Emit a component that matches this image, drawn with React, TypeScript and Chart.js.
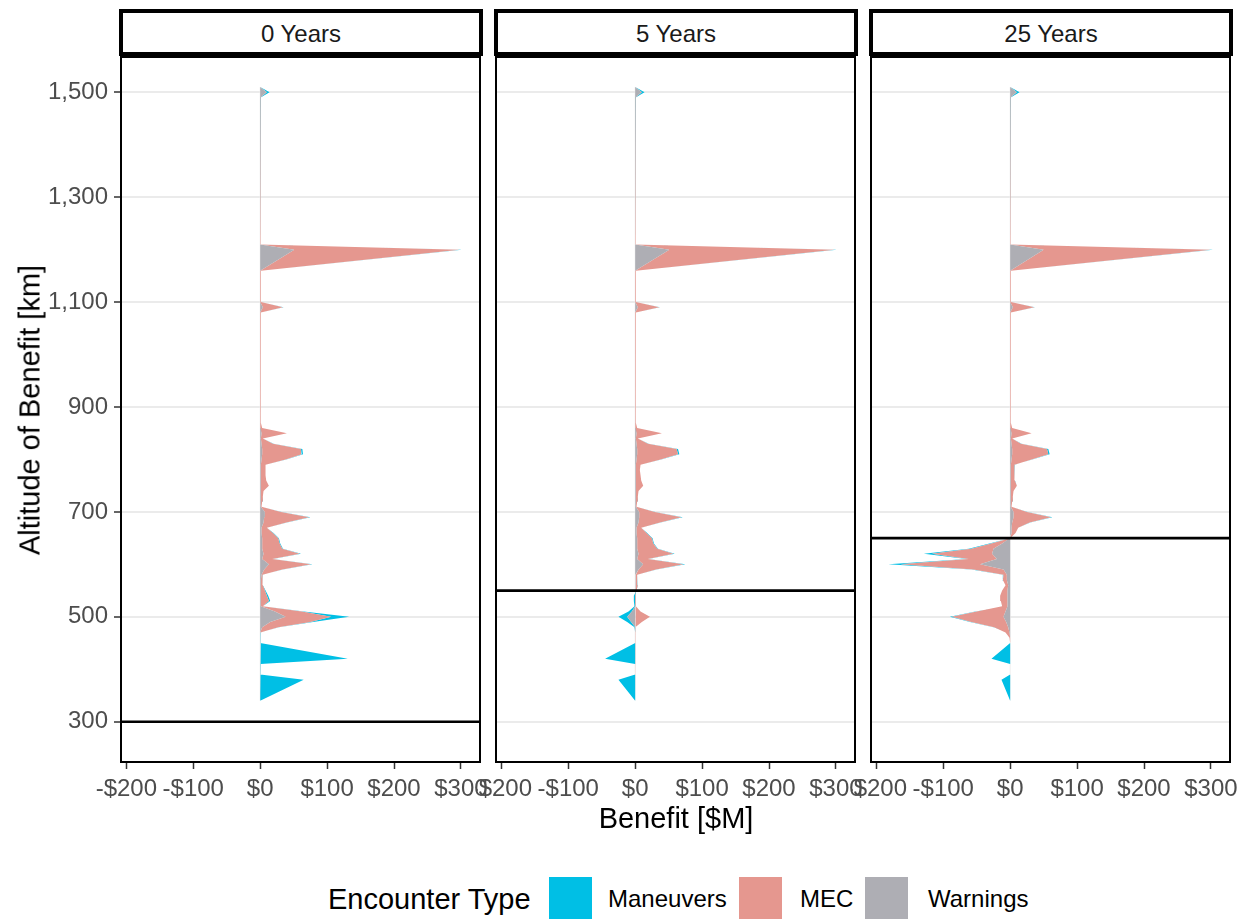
import React, { useEffect, useRef } from "react";
import { Chart, registerables } from "chart.js";

Chart.register(...registerables);

// ---------------- data ----------------
const altitudes = [
  340, 380, 390, 410, 420, 450, 460, 470, 480, 490, 500, 510, 520, 530, 540, 550, 560, 570, 580, 590,
  600, 610, 620, 630, 640, 650, 660, 670, 680, 690, 700, 710, 720, 730, 740, 750, 760, 770, 780, 790,
  800, 810, 820, 830, 840, 850, 860, 870, 900, 950, 1000, 1050, 1080, 1090, 1100, 1160, 1200, 1210,
  1300, 1400, 1490, 1500, 1510,
];

// 0 Years
const warnings0 = [
  0, 0, 0, 0, 0, 0, 0, 0, 3, 15, 38, 22, 1, 1, 1, 1, 1, 1, 2, 6,
  13, 3, 5, 3, 3, 3, 2, 2, 5, 6, 7, 1, 1, 1, 1, 1, 1, 1, 1, 1,
  2, 3, 3, 2, 1, 2, 1, 0, 0, 0, 0, 0, 0, 4, 0, 0, 51, 0,
  0, 0, 0, 9, 0,
];
const mec0 = [
  0, 0, 0, 0, 0, 0, 0, 1, 24, 60, 68, 40, 3, 12, 9, 6, 3, 2, 2, 27,
  63, 15, 54, 30, 26, 24, 17, 8, 34, 67, 24, 1, 2, 3, 4, 12, 8, 7, 7, 7,
  36, 59, 58, 17, 3, 38, 2, 1, 1, 1, 1, 1, 1, 30, 1, 1, 247, 0,
  1, 1, 0, 1, 0,
];
const maneuvers0 = [
  0, 65, 0, 0, 131, 0, 0, 0, 1, 4, 27, 3, 0, 2, 2, 1, 0, 0, 0, 1,
  2, 1, 2, 1, 1, 1, 1, 0, 1, 2, 1, 0, 0, 0, 0, 0, 0, 0, 0, 0,
  1, 2, 2, 1, 0, 0, 0, 0, 0, 0, 0, 0, 0, 1, 0, 0, 3, 0,
  0, 0, 0, 4, 0,
];

// 5 Years
const warnings5 = [
  0, 0, 0, 0, 0, 0, 0, 0, 0, -6, -12, -5, 0, 0, 0, 0, 1, 1, 1, 5,
  12, 3, 5, 3, 3, 3, 2, 2, 5, 6, 6, 1, 1, 1, 1, 1, 1, 1, 1, 1,
  2, 3, 3, 2, 1, 2, 1, 0, 0, 0, 0, 0, 0, 4, 0, 0, 51, 0,
  0, 0, 0, 9, 0,
];
const mec5 = [
  0, 0, 0, 0, 0, 0, 0, 0, 1, 10, 22, 8, 1, 0, 0, 2, 3, 2, 2, 26,
  60, 16, 52, 30, 24, 22, 15, 7, 32, 63, 23, 1, 2, 3, 4, 11, 8, 7, 6, 7,
  36, 61, 59, 17, 3, 38, 2, 1, 1, 1, 1, 1, 1, 32, 1, 1, 247, 0,
  1, 1, 0, 1, 0,
];
const maneuvers5 = [
  0, -25, 0, 0, -45, 0, 0, 0, -1, -6, -13, -5, -1, -2, -2, 0, 0, 0, 0, 1,
  3, 1, 2, 1, 1, 1, 1, 0, 1, 2, 1, 0, 0, 0, 0, 0, 0, 0, 0, 0,
  1, 2, 2, 1, 0, 0, 0, 0, 0, 0, 0, 0, 0, 1, 0, 0, 3, 0,
  0, 0, 0, 4, 0,
];

// 25 Years
const warnings25 = [
  0, 0, 0, 0, 0, 0, 0, -1, -3, -6, -10, -7, -4, -4, -4, -4, -3, -5, -5, -10,
  -45, -20, -27, -25, -12, -1, 2, 2, 3, 5, 5, 1, 1, 1, 1, 1, 1, 1, 1, 1,
  2, 3, 3, 2, 1, 2, 1, 0, 0, 0, 0, 0, 0, 4, 0, 0, 50, 0,
  0, 0, 0, 9, 0,
];
const mec25 = [
  0, 0, 0, 0, 0, 0, -1, -6, -21, -52, -77, -43, -8, -10, -11, -8, -4, -6, -5, -45,
  -119, -42, -90, -33, -16, 0, 6, 10, 26, 56, 20, 1, 2, 3, 4, 9, 6, 5, 5, 6,
  30, 54, 52, 14, 2, 30, 2, 1, 1, 1, 1, 1, 1, 32, 1, 1, 250, 0,
  1, 1, 0, 1, 0,
];
const maneuvers25 = [
  0, -13, 0, 0, -28, 0, 0, 0, -1, -2, -3, -2, 0, 0, 0, 0, 0, -1, -1, -3,
  -18, -3, -12, -4, -3, 0, 0, 0, 1, 2, 1, 0, 0, 0, 0, 0, 0, 0, 0, 0,
  1, 2, 2, 1, 0, 0, 0, 0, 0, 0, 0, 0, 0, 1, 0, 0, 3, 0,
  0, 0, 0, 4, 0,
];

const panelTitles = ["0 Years", "5 Years", "25 Years"];
const limitAltitudes = [300, 550, 650];
const yTicks = [300, 500, 700, 900, 1100, 1300, 1500];
const xTicks = [-200, -100, 0, 100, 200, 300];
const seriesNames = ["Maneuvers", "MEC", "Warnings"];
const seriesColors = ["#00BFE5", "#E5978F", "#AEAEB4"];

const panelSeries = [
  { warnings: warnings0, mec: mec0, maneuvers: maneuvers0 },
  { warnings: warnings5, mec: mec5, maneuvers: maneuvers5 },
  { warnings: warnings25, mec: mec25, maneuvers: maneuvers25 },
];

// ---------------- layout ----------------
const FONT = "'Liberation Sans', Arial, Helvetica, sans-serif";
const Y_MIN = 223.2;
const Y_MAX = 1567.3;
const X_MIN = -208;
const X_MAX = 330;
const AREA_TOP = 57;
const AREA_H = 705;
const AREA_W = 360;
const AREA_LEFTS = [121, 496, 871];
const X_AXIS_H = 50;

function stackBands(series: number[][]) {
  const n = altitudes.length;
  const pos = new Array(n).fill(0);
  const neg = new Array(n).fill(0);
  return series.map((vals) => {
    const lower: number[] = [];
    const upper: number[] = [];
    for (let i = 0; i < n; i++) {
      const v = vals[i];
      if (v >= 0) {
        lower.push(pos[i]);
        pos[i] += v;
        upper.push(pos[i]);
      } else {
        lower.push(neg[i]);
        neg[i] += v;
        upper.push(neg[i]);
      }
    }
    return { lower, upper };
  });
}

const money = (v: number) => (v < 0 ? `-$${-v}` : `$${v}`);

const zeroPadding = (sc: any) => {
  sc.paddingLeft = 0;
  sc.paddingRight = 0;
  sc.paddingTop = 0;
  sc.paddingBottom = 0;
};

function Panel({ idx }: { idx: number }) {
  const ref = useRef<HTMLCanvasElement | null>(null);
  const padLeft = idx === 0 ? 0 : 20;
  const padRight = idx === 2 ? 14 : 20;
  const yWidth = idx === 0 ? AREA_LEFTS[0] : 0;
  const canvasLeft = AREA_LEFTS[idx] - yWidth - padLeft;
  const canvasW = padLeft + yWidth + AREA_W + padRight;
  const canvasH = AREA_H + X_AXIS_H;

  useEffect(() => {
    const s = panelSeries[idx];
    // stack order from the axis outward: Warnings, MEC, Maneuvers
    const stackOrder = [s.warnings, s.mec, s.maneuvers];
    const stackColors = [seriesColors[2], seriesColors[1], seriesColors[0]];
    const bands = stackBands(stackOrder);

    const datasets: any[] = [];
    datasets.push({
      label: "limit",
      data: [
        { x: X_MIN, y: limitAltitudes[idx] },
        { x: X_MAX, y: limitAltitudes[idx] },
      ],
      borderColor: "#000000",
      borderWidth: 2.6,
      pointRadius: 0,
      fill: false,
    });
    bands.forEach((b, k) => {
      datasets.push({
        label: "lower" + k,
        data: b.lower.map((x, i) => ({ x, y: altitudes[i] })),
        borderWidth: 0,
        borderColor: "rgba(0,0,0,0)",
        pointRadius: 0,
        fill: false,
      });
      datasets.push({
        label: "upper" + k,
        data: b.upper.map((x, i) => ({ x, y: altitudes[i] })),
        borderWidth: 0,
        borderColor: "rgba(0,0,0,0)",
        backgroundColor: stackColors[k],
        pointRadius: 0,
        fill: "-1",
      });
    });
    datasets.push({
      label: "zero",
      data: [
        { x: 0, y: altitudes[0] },
        { x: 0, y: altitudes[altitudes.length - 1] },
      ],
      borderColor: "#EFEFEF",
      borderWidth: 1,
      pointRadius: 0,
      fill: false,
    });

    const chart = new Chart(ref.current as HTMLCanvasElement, {
      type: "line",
      data: { datasets },
      options: {
        indexAxis: "y",
        animation: false,
        responsive: false,
        events: [],
        layout: { autoPadding: false, padding: { left: padLeft, right: padRight, top: 0, bottom: 0 } },
        plugins: { legend: { display: false }, tooltip: { enabled: false } },
        elements: { line: { tension: 0 } },
        scales: {
          y: {
            type: "linear",
            min: Y_MIN,
            max: Y_MAX,
            afterBuildTicks: (sc: any) => {
              sc.ticks = yTicks.map((v) => ({ value: v }));
            },
            afterFit: (sc: any) => {
              sc.width = yWidth;
              zeroPadding(sc);
            },
            grid: {
              color: "#EBEBEB",
              lineWidth: 2,
              drawTicks: idx === 0,
              tickLength: 7,
              tickColor: "#333333",
              tickWidth: 1.5,
            },
            border: { display: false },
            ticks: {
              display: idx === 0,
              color: "#4D4D4D",
              font: { family: FONT, size: 24 },
              padding: 6,
              autoSkip: false,
              callback: (v: any) => Number(v).toLocaleString("en-US"),
            },
          },
          x: {
            type: "linear",
            position: "bottom",
            min: X_MIN,
            max: X_MAX,
            afterBuildTicks: (sc: any) => {
              sc.ticks = xTicks.map((v) => ({ value: v }));
            },
            afterFit: (sc: any) => {
              sc.height = X_AXIS_H;
              zeroPadding(sc);
            },
            grid: {
              drawOnChartArea: false,
              drawTicks: true,
              tickLength: 7,
              tickColor: "#333333",
              tickWidth: 1.5,
            },
            border: { display: false },
            ticks: {
              color: "#4D4D4D",
              font: { family: FONT, size: 24 },
              padding: 6,
              autoSkip: false,
              maxRotation: 0,
              minRotation: 0,
              callback: (v: any) => money(Number(v)),
            },
          },
        },
      } as any,
    });
    return () => chart.destroy();
  }, [idx]);

  const areaLeft = AREA_LEFTS[idx];
  return (
    <>
      <canvas
        ref={ref}
        width={canvasW}
        height={canvasH}
        style={{ position: "absolute", left: canvasLeft, top: AREA_TOP, width: canvasW, height: canvasH }}
      />
      <div
        style={{
          position: "absolute",
          left: areaLeft - 1,
          top: AREA_TOP - 1,
          width: AREA_W + 1,
          height: AREA_H + 2,
          border: "2px solid #000",
          boxSizing: "border-box",
          pointerEvents: "none",
        }}
      />
      <div
        style={{
          position: "absolute",
          left: areaLeft - 2,
          top: 9,
          width: AREA_W + 4,
          height: 47,
          border: "4px solid #000",
          boxSizing: "border-box",
          background: "#FFFFFF",
        }}
      />
      <div
        style={{
          position: "absolute",
          left: areaLeft,
          top: 22,
          width: AREA_W,
          textAlign: "center",
          fontFamily: FONT,
          fontSize: 24,
          lineHeight: "24px",
          color: "#1A1A1A",
          whiteSpace: "nowrap",
        }}
      >
        {panelTitles[idx]}
      </div>
    </>
  );
}

export default function App() {
  const legendKeyLefts = [549, 739, 865];
  const legendTextLefts = [608, 800, 928];
  return (
    <div style={{ position: "absolute", left: 0, top: 0, width: 1247, height: 920, overflow: "hidden", background: "#FFFFFF" }}>
      {[0, 1, 2].map((i) => (
        <Panel key={i} idx={i} />
      ))}
      <div
        style={{
          position: "absolute",
          left: 30,
          top: 410,
          transform: "translate(-50%, -50%) rotate(-90deg)",
          fontFamily: FONT,
          fontSize: 29,
          lineHeight: "29px",
          color: "#000",
          whiteSpace: "nowrap",
        }}
      >
        Altitude of Benefit [km]
      </div>
      <div
        style={{
          position: "absolute",
          left: 476,
          width: 400,
          top: 804,
          textAlign: "center",
          fontFamily: FONT,
          fontSize: 29,
          lineHeight: "29px",
          color: "#000",
          whiteSpace: "nowrap",
        }}
      >
        Benefit [$M]
      </div>
      <div
        style={{
          position: "absolute",
          left: 328,
          top: 885,
          fontFamily: FONT,
          fontSize: 29,
          lineHeight: "29px",
          color: "#000",
          whiteSpace: "nowrap",
        }}
      >
        Encounter Type
      </div>
      {seriesNames.map((name, k) => (
        <React.Fragment key={name}>
          <div
            style={{
              position: "absolute",
              left: legendKeyLefts[k],
              top: 877,
              width: 43,
              height: 42,
              background: seriesColors[k],
            }}
          />
          <div
            style={{
              position: "absolute",
              left: legendTextLefts[k],
              top: 887,
              fontFamily: FONT,
              fontSize: 24,
              lineHeight: "24px",
              color: "#000",
              whiteSpace: "nowrap",
            }}
          >
            {name}
          </div>
        </React.Fragment>
      ))}
    </div>
  );
}
